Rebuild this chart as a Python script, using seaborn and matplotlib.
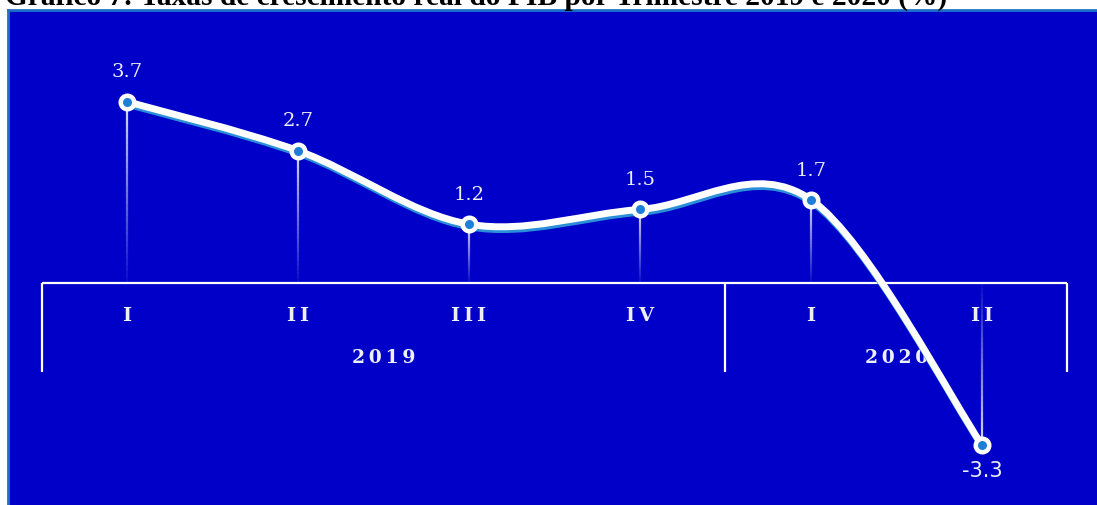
import numpy as np
import pandas as pd
import matplotlib
matplotlib.use('Agg')
from matplotlib import pyplot as plt
from matplotlib.path import Path
from matplotlib.patches import PathPatch
from matplotlib.collections import LineCollection
import matplotlib.patheffects as pe
import seaborn as sns

sns.set_theme(style='white')

# data
quarters = ['I', 'II', 'III', 'IV', 'I', 'II']
years = ['2019', '2020']
year_of_quarter = ['2019', '2019', '2019', '2019', '2020', '2020']
growth = [3.7, 2.7, 1.2, 1.5, 1.7, -3.3]
title = 'Gráfico 7: Taxas de crescimento real do PIB por Trimestre 2019 e 2020 (%)'

df = pd.DataFrame({'quarter': quarters, 'year': year_of_quarter, 'growth': growth})
df['pos'] = np.arange(len(df))

BLUE = '#0000C8'
BORDER = '#1E72C8'
SHADOW = '#2A8FD8'
TXT = '#EEEEF6'

W, H = 1097, 505
fig = plt.figure(figsize=(W / 100, H / 100), dpi=100, facecolor='white')
ax = fig.add_axes([8 / W, 0, (W - 8) / W, (H - 10) / H])
ax.set_facecolor(BLUE)
for s in ['right', 'bottom']:
    ax.spines[s].set_visible(False)
for s in ['left', 'top']:
    ax.spines[s].set_color(BORDER)
    ax.spines[s].set_linewidth(2)
ax.set_xlim(-0.696, 5.673)
ax.set_ylim(-4.53, 5.57)
ax.set_xticks([])
ax.set_yticks([])

# drop lines with fade towards the axis
for x, y in zip(df['pos'], df['growth']):
    n = 30
    ys = np.linspace(y, 0, n + 1)
    segs = [[(x, ys[i]), (x, ys[i + 1])] for i in range(n)]
    alphas = np.linspace(0.85, 0.05, n)
    cols = [(1, 1, 1, a) for a in alphas]
    ax.add_collection(LineCollection(segs, colors=cols, linewidths=1.6, zorder=2))

# category axis
ax.hlines(0, -0.5, 5.5, color='white', lw=1.6, zorder=1)
for xs in [-0.5, 3.5, 5.5]:
    ax.vlines(xs, -1.81, 0, color='white', lw=1.6, zorder=1)
for x, q in zip(df['pos'], df['quarter']):
    ax.text(x, -0.67, '\u2009'.join(q), ha='center', va='center', color=TXT,
            fontsize=14, fontweight='bold', family='DejaVu Serif', zorder=1)
for i, yr in enumerate(years):
    xc = df.loc[df['year'] == yr, 'pos'].mean()
    ax.text(xc, -1.54, '\u2009'.join(yr), ha='center', va='center',
            color=TXT, fontsize=13.5, fontweight='bold', family='DejaVu Serif', zorder=1)

# smooth line (Catmull-Rom as cubic Bezier)
px = df['pos'].to_numpy(float)
py = df['growth'].to_numpy(float)
pts = np.column_stack([px, py])
ext = np.vstack([pts[0], pts, pts[-1]])
verts = [tuple(pts[0])]
codes = [Path.MOVETO]
for i in range(len(pts) - 1):
    p0, p1, p2, p3 = ext[i], ext[i + 1], ext[i + 2], ext[i + 3]
    c1 = p1 + (p2 - p0) / 6
    c2 = p2 - (p3 - p1) / 6
    verts += [tuple(c1), tuple(c2), tuple(p2)]
    codes += [Path.CURVE4] * 3
curve = PathPatch(Path(verts, codes), facecolor='none', edgecolor='white',
                  lw=5, capstyle='round', joinstyle='round', zorder=3)
curve.set_path_effects([pe.SimpleLineShadow(offset=(0.8, -2.0), shadow_color=SHADOW, alpha=1.0),
                        pe.Normal()])
ax.add_patch(curve)

# markers
sns.scatterplot(data=df, x='pos', y='growth', ax=ax, s=95, color='#1E7FD8',
                edgecolor='white', linewidth=3.2, zorder=4, legend=False)
ax.set_xlabel('')
ax.set_ylabel('')

# value labels
for x, y in zip(df['pos'], df['growth']):
    if y >= 0:
        ax.annotate(f'{y:.1f}', (x, y), xytext=(0, 21), textcoords='offset points',
                    ha='center', va='center', color=TXT, fontsize=14,
                    family='DejaVu Serif', zorder=5)
    else:
        ax.annotate(f'{y:.1f}', (x, y), xytext=(0, -19), textcoords='offset points',
                    ha='center', va='center', color=TXT, fontsize=15,
                    family='Liberation Sans Narrow', zorder=5)

# title partly cut at top, as in the source image
fig.text(5 / W, 1 - 5 / H, title, ha='left', va='baseline', fontsize=21.2,
         fontweight='bold', family='Liberation Serif', color='black')

plt.savefig('out.png', dpi=100, facecolor='white')
